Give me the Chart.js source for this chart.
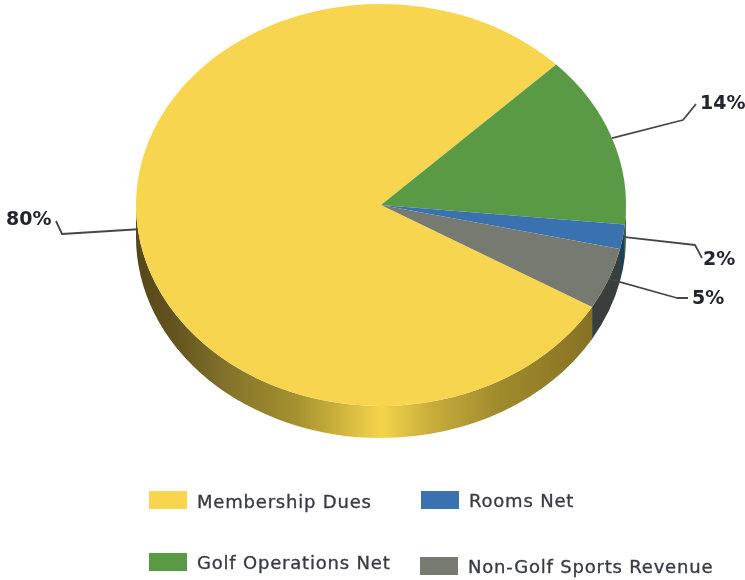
<!DOCTYPE html>
<html>
<head>
<meta charset="utf-8">
<style>
  html, body { margin: 0; padding: 0; background: #fff; }
  canvas { display: block; }
</style>
<script src="https://cdn.jsdelivr.net/npm/chart.js@4"></script>
</head>
<body>
<canvas id="pie" width="745" height="580"></canvas>
<script>
// Revenue mix
const categories = ['Membership Dues', 'Golf Operations Net', 'Rooms Net', 'Non-Golf Sports Revenue'];
const shares = [80, 14, 2, 5];
const faceColors = ['#f7d54e', '#5b9a45', '#3a72b0', '#777a70'];
const sideColors = [null, '#3f6b30', '#1d4258', '#3a3f3c'];

// Tilted-disc geometry: vertical squash of the face, its centre, and the rim depth
const TILT = 0.8204;
const FACE_CY = 205;
const RIM_DEPTH = 32;

// Rim shading across the width of the yellow slice
const rimStops = [
  [0.00, '#554718'], [0.08, '#64541f'], [0.19, '#84742b'], [0.33, '#a5922f'],
  [0.43, '#d4b93f'], [0.50, '#f4d54a'], [0.60, '#c9ae3c'], [0.74, '#a08a2c'],
  [0.91, '#8a7525'], [1.00, '#7a6720']
];

// Leader line bends and label anchors, per slice
const leaders = [
  { bend: [[62, 234], [56, 221]],   text: [6, 220] },
  { bend: [[683, 120], [696, 104]], text: [700, 104] },
  { bend: [[695, 245], [702, 258]], text: [703, 260] },
  { bend: [[677, 298], [688, 298]], text: [692, 299] }
];

// Legend entries: swatch rectangle and text start
const legendLayout = [
  { box: [149, 491, 38, 18], text: [197, 503] },
  { box: [149, 553, 38, 18], text: [197, 564] },
  { box: [421, 491, 38, 18], text: [469, 502] },
  { box: [420, 557, 38, 18], text: [468, 568] }
];

const tiltedDisc = {
  id: 'tiltedDisc',
  beforeDatasetsDraw(chart) {
    const ctx = chart.ctx;
    const arcs = chart.getDatasetMeta(0).data;
    const g = ctx.createLinearGradient(arcs[0].x - arcs[0].outerRadius, 0, arcs[0].x + arcs[0].outerRadius, 0);
    rimStops.forEach(s => g.addColorStop(s[0], s[1]));

    // Rim: the part of each slice's edge on the near half of the disc
    arcs.forEach((arc, i) => {
      const rx = arc.outerRadius, ry = rx * TILT;
      for (let k = 0; k < 2; k++) {
        const a0 = Math.max(arc.startAngle, 2 * Math.PI * k);
        const a1 = Math.min(arc.endAngle, Math.PI + 2 * Math.PI * k);
        if (a1 <= a0) continue;
        ctx.beginPath();
        ctx.ellipse(arc.x, FACE_CY, rx, ry, 0, a0, a1);
        ctx.ellipse(arc.x, FACE_CY + RIM_DEPTH, rx, ry, 0, a1, a0, true);
        ctx.closePath();
        ctx.fillStyle = sideColors[i] || g;
        ctx.fill();
      }
    });

    // Squash the face into an ellipse for the library's own arc drawing
    const cx = arcs[0].x, cy = arcs[0].y;
    ctx.save();
    ctx.translate(cx, FACE_CY);
    ctx.scale(1, TILT);
    ctx.translate(-cx, -cy);
  },
  afterDatasetsDraw(chart) {
    const ctx = chart.ctx;
    ctx.restore();

    const arcs = chart.getDatasetMeta(0).data;
    ctx.save();
    ctx.lineJoin = 'round';
    arcs.forEach((arc, i) => {
      const mid = (arc.startAngle + arc.endAngle) / 2;
      const sx = arc.x + arc.outerRadius * Math.cos(mid);
      const sy = FACE_CY + arc.outerRadius * TILT * Math.sin(mid);
      ctx.beginPath();
      ctx.moveTo(sx, sy);
      leaders[i].bend.forEach(p => ctx.lineTo(p[0], p[1]));
      ctx.strokeStyle = '#44474d';
      ctx.lineWidth = 1.8;
      ctx.stroke();

      ctx.fillStyle = '#22252d';
      ctx.font = 'bold 19px "DejaVu Sans"';
      ctx.textAlign = 'left';
      ctx.textBaseline = 'middle';
      ctx.fillText(shares[i] + '%', leaders[i].text[0], leaders[i].text[1]);
    });

    ctx.letterSpacing = '0.8px';
    categories.forEach((name, i) => {
      const l = legendLayout[i];
      ctx.fillStyle = faceColors[i];
      ctx.fillRect(l.box[0], l.box[1], l.box[2], l.box[3]);
      ctx.fillStyle = '#3a3b44';
      ctx.strokeStyle = '#3a3b44';
      ctx.lineWidth = 0.35;
      ctx.font = '18px "DejaVu Sans"';
      ctx.textBaseline = 'middle';
      ctx.fillText(name, l.text[0], l.text[1]);
      ctx.strokeText(name, l.text[0], l.text[1]);
    });
    ctx.restore();
  }
};

new Chart(document.getElementById('pie'), {
  type: 'pie',
  data: {
    labels: categories,
    datasets: [{
      data: shares,
      backgroundColor: faceColors,
      borderWidth: 0,
      clip: false
    }]
  },
  options: {
    responsive: false,
    animation: false,
    rotation: 120.5,
    layout: { padding: { left: 136, right: 119, top: 0, bottom: 90 } },
    plugins: { legend: { display: false }, tooltip: { enabled: false } }
  },
  plugins: [tiltedDisc]
});
</script>
</body>
</html>
